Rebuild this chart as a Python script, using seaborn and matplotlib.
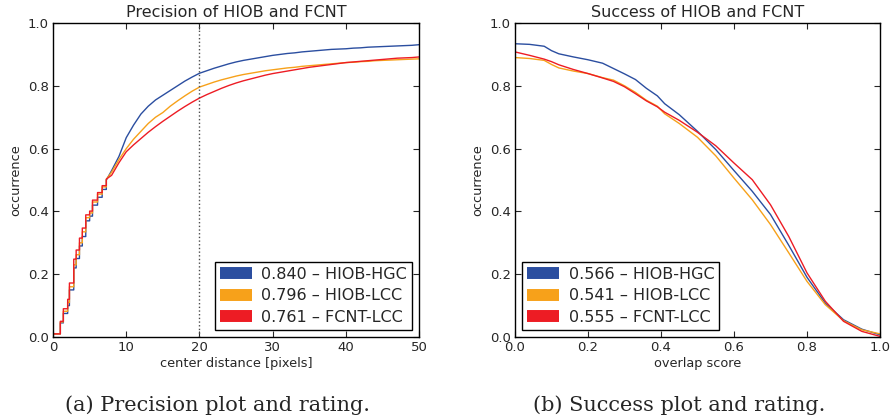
# Precision and success plots of HIOB and FCNT

import pandas as pd
import matplotlib
matplotlib.use("Agg")
import matplotlib.pyplot as plt
import seaborn as sns

# precision: fraction of frames within a center distance (pixels)
# small distances come in discrete pixel steps (sqrt of integer distances)
step_dist = [0, 1, 1.41, 2, 2.24, 2.83, 3.16, 3.61, 4, 4.47, 5, 5.39, 6.08, 6.71, 7.28]
step_hgc = [0.010, 0.045, 0.075, 0.100, 0.150, 0.220, 0.250, 0.290, 0.320, 0.370,
            0.385, 0.420, 0.445, 0.470, 0.500]
step_lcc = [0.010, 0.048, 0.082, 0.110, 0.160, 0.230, 0.262, 0.300, 0.335, 0.380,
            0.395, 0.430, 0.455, 0.478, 0.502]
step_fcnt = [0.010, 0.050, 0.090, 0.120, 0.172, 0.248, 0.277, 0.315, 0.347, 0.389,
             0.401, 0.436, 0.460, 0.482, 0.503]

# larger distances, one value per pixel
distance = list(range(8, 51))
prec_hgc = [0.530, 0.575,
            0.635, 0.675, 0.710, 0.735, 0.755, 0.770, 0.785, 0.800, 0.815, 0.828,
            0.840, 0.848, 0.856, 0.863, 0.870, 0.876, 0.881, 0.885, 0.889, 0.893,
            0.897, 0.900, 0.903, 0.905, 0.908, 0.910, 0.912, 0.914, 0.916, 0.917,
            0.918, 0.920, 0.921, 0.923, 0.924, 0.925, 0.926, 0.927, 0.928, 0.929, 0.931]
prec_lcc = [0.525, 0.565,
            0.600, 0.630, 0.655, 0.680, 0.700, 0.715, 0.735, 0.752, 0.768, 0.783,
            0.796, 0.804, 0.812, 0.819, 0.825, 0.831, 0.836, 0.840, 0.844, 0.848,
            0.851, 0.854, 0.857, 0.859, 0.862, 0.864, 0.866, 0.868, 0.870, 0.872,
            0.874, 0.875, 0.877, 0.878, 0.880, 0.881, 0.882, 0.883, 0.884, 0.885, 0.886]
prec_fcnt = [0.515, 0.555,
             0.590, 0.612, 0.632, 0.652, 0.670, 0.687, 0.703, 0.719, 0.734, 0.748,
             0.761, 0.772, 0.782, 0.792, 0.801, 0.809, 0.816, 0.822, 0.828, 0.834,
             0.839, 0.843, 0.847, 0.851, 0.855, 0.859, 0.862, 0.865, 0.868, 0.871,
             0.874, 0.876, 0.878, 0.880, 0.882, 0.884, 0.886, 0.888, 0.889, 0.890, 0.892]

# success: fraction of frames above an overlap score
overlap = [0.0, 0.04, 0.08, 0.10, 0.12, 0.16, 0.20, 0.24, 0.27, 0.30, 0.33, 0.36, 0.39,
           0.41, 0.45, 0.50, 0.55, 0.60, 0.65, 0.70, 0.75, 0.80, 0.85, 0.90, 0.95, 1.00]
succ_hgc = [0.934, 0.932, 0.926, 0.912, 0.902, 0.892, 0.883, 0.872, 0.855, 0.838, 0.820,
            0.792, 0.768, 0.743, 0.708, 0.655, 0.597, 0.530, 0.464, 0.390, 0.292, 0.190,
            0.108, 0.055, 0.025, 0.007]
succ_lcc = [0.890, 0.887, 0.881, 0.868, 0.857, 0.847, 0.839, 0.826, 0.818, 0.800, 0.779,
            0.754, 0.735, 0.711, 0.680, 0.636, 0.577, 0.506, 0.437, 0.358, 0.268, 0.177,
            0.103, 0.052, 0.023, 0.010]
succ_fcnt = [0.908, 0.897, 0.885, 0.877, 0.867, 0.852, 0.839, 0.825, 0.814, 0.797, 0.775,
             0.752, 0.733, 0.716, 0.690, 0.652, 0.609, 0.554, 0.501, 0.421, 0.320, 0.204,
             0.114, 0.050, 0.018, 0.002]

names = ["HIOB-HGC", "HIOB-LCC", "FCNT-LCC"]
prec_scores = ["0.840", "0.796", "0.761"]
succ_scores = ["0.566", "0.541", "0.555"]
colors = ["#2b4ea0", "#f7a11a", "#ed1c24"]


def precision_frame(steps, vals):
    # staircase over the discrete small distances, then the per-pixel curve
    xs, ys = [step_dist[0]], [steps[0]]
    for t, prev, cur in zip(step_dist[1:], steps[:-1], steps[1:]):
        xs += [t, t]
        ys += [prev, cur]
    xs += distance
    ys += vals
    return pd.DataFrame({"x": xs, "y": ys})


sns.set_style("ticks")
plt.rcParams.update({
    "xtick.direction": "in", "ytick.direction": "in",
    "xtick.top": True, "ytick.right": True,
    "xtick.major.size": 4, "ytick.major.size": 4,
    "axes.edgecolor": "black", "axes.linewidth": 1.0,
    "font.family": ["DejaVu Sans"],
})

fig = plt.figure(figsize=(8.91, 4.2), dpi=100)
ax1 = fig.add_axes([0.0595, 0.1976, 0.411, 0.7476])
ax2 = fig.add_axes([0.578, 0.1976, 0.4097, 0.7476])

prec_sets = [(step_hgc, prec_hgc), (step_lcc, prec_lcc), (step_fcnt, prec_fcnt)]
for (steps, vals), name, score, c in zip(prec_sets, names, prec_scores, colors):
    df = precision_frame(steps, vals)
    sns.lineplot(data=df, x="x", y="y", ax=ax1, color=c, linewidth=1.0,
                 estimator=None, sort=False, label=f"{score} – {name}")
ax1.axvline(20, color="0.3", linestyle=":", linewidth=1.0)

for vals, name, score, c in zip([succ_hgc, succ_lcc, succ_fcnt], names, succ_scores, colors):
    df = pd.DataFrame({"x": overlap, "y": vals})
    sns.lineplot(data=df, x="x", y="y", ax=ax2, color=c, linewidth=1.0,
                 estimator=None, sort=False, label=f"{score} – {name}")

ax1.set_xlim(0, 50)
ax2.set_xlim(0, 1)
for ax, title, xl in [(ax1, "Precision of HIOB and FCNT", "center distance [pixels]"),
                      (ax2, "Success of HIOB and FCNT", "overlap score")]:
    ax.set_ylim(0, 1)
    ax.set_yticks([0, 0.2, 0.4, 0.6, 0.8, 1.0])
    ax.set_title(title, fontsize=11.5, pad=4)
    ax.set_xlabel(xl, fontsize=9.3, labelpad=2)
    ax.set_ylabel("occurrence", fontsize=9.3, labelpad=4)
    ax.tick_params(labelsize=9.5, pad=3)

ax2.set_xticks([0, 0.2, 0.4, 0.6, 0.8, 1.0])
ax2.set_xticklabels(["0.0", "0.2", "0.4", "0.6", "0.8", "1.0"])

for ax, loc in [(ax1, "lower right"), (ax2, "lower left")]:
    leg = ax.legend(loc=loc, fontsize=11.5, frameon=True, fancybox=False,
                    edgecolor="black", framealpha=1, handlelength=2.0,
                    handletextpad=0.6, borderaxespad=0.45, labelspacing=0.42,
                    borderpad=0.3)
    leg.get_frame().set_linewidth(1.0)
    for line in leg.get_lines():
        line.set_linewidth(8.6)
        line.set_solid_capstyle("butt")

fig.text(0.244, 0.035, "(a) Precision plot and rating.", ha="center", va="center",
         fontsize=15, family=["DejaVu Serif"])
fig.text(0.762, 0.035, "(b) Success plot and rating.", ha="center", va="center",
         fontsize=15, family=["DejaVu Serif"])

fig.savefig("out.png", dpi=100)
